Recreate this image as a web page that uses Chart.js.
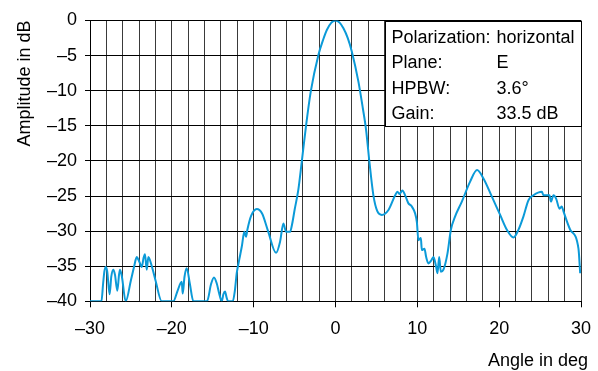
<!DOCTYPE html>
<html>
<head>
<meta charset="utf-8">
<script src="https://cdn.jsdelivr.net/npm/chart.js@4.4.1/dist/chart.umd.min.js"></script>
<style>
  html, body { margin: 0; padding: 0; background: #fff; }
</style>
</head>
<body>
<canvas id="pattern" width="598" height="371"></canvas>
<script>
// measured antenna pattern, angle in deg / amplitude in dB
const angleDeg = [
  -30.0, -28.6, -28.4, -28.25, -28.08, -27.9, -27.6, -27.4, -27.15, -26.95,
  -26.66, -26.45, -26.33, -26.1, -25.64, -25.0, -24.6, -24.29, -24.0, -23.67,
  -23.45, -23.28, -23.07, -22.87, -22.5, -22.0, -21.23, -19.82, -19.3, -18.79,
  -18.67, -18.45, -18.18, -17.8, -17.37, -15.7, -15.2, -14.85, -14.5, -14.23,
  -13.9, -13.7, -13.5, -13.3, -13.13, -12.56, -12.3, -12.07, -11.75, -11.45,
  -11.14, -10.93, -10.77, -10.3, -9.62, -8.97, -8.24, -7.26, -6.77, -6.37,
  -6.04, -5.55, -5.3, -5.0, -4.54, -4.12, -3.59, -3.02, -2.09, -1.5,
  -1.06, -0.5, 0, 0.5, 0.97, 1.5, 1.99, 2.8, 3.34, 3.74,
  4.14, 4.63, 5.12, 5.66, 6.47, 7.29, 7.57, 7.81, 8.18, 8.51,
  8.91, 9.33, 9.94, 10.13, 10.43, 10.55, 10.87, 11.08, 11.36, 11.69,
  11.97, 12.3, 12.46, 12.67, 12.87, 13.19, 13.68, 14.1, 14.62, 15.44,
  16.45, 17.3, 18.08, 19.11, 20.12, 20.94, 21.75, 22.36, 22.97, 23.58,
  24.19, 25.22, 25.41, 26.15, 26.32, 26.64, 26.97, 27.37, 27.66, 27.86,
  28.68, 29.69, 29.9
];
const amplitudeDb = [
  -40, -40, -37.5, -35.8, -35.1, -35.7, -39, -36.5, -35.5, -36.2,
  -38.5, -36.2, -35.5, -36.5, -40, -37, -35, -33.7, -34.3, -35.1,
  -33.8, -33.3, -35.5, -33.7, -34.8, -37, -40, -40, -38.5, -37.2,
  -38.9, -36.5, -35.3, -37.5, -40, -40, -37.5, -36.6, -37.5, -38.8,
  -40, -39, -38.6, -39.5, -40, -40, -38.5, -36, -34, -32.2,
  -30.1, -30.8, -29.8, -27.8, -26.85, -27.5, -30, -33.1, -31.5, -28.9,
  -30.1, -30.1, -29, -27, -24.1, -20.1, -14.9, -10.1, -4.9, -2.7,
  -1.35, -0.3, 0, -0.3, -1.1, -2.5, -4.4, -8.7, -12.5, -15.6,
  -20.1, -24.9, -27.2, -27.7, -27.0, -24.9, -24.4, -24.7, -24.2, -24.9,
  -26.05, -26.5, -28.7, -31.3, -31.0, -32.7, -32.5, -33.7, -34.6, -34.2,
  -33.7, -35.1, -36, -33.7, -35.8, -35.5, -33.2, -29.8, -27.9, -25.8,
  -22.95, -21.3, -22.5, -25.1, -27.7, -29.8, -30.9, -29.8, -27.9, -25.6,
  -24.9, -24.4, -24.9, -24.9, -25.8, -24.9, -25.4, -26.8, -26.5, -27.2,
  -29.8, -32.5, -36.0
];

const infoLabels = ['Polarization:', 'Plane:', 'HPBW:', 'Gain:'];
const infoValues = ['horizontal', 'E', '3.6°', '33.5 dB'];
const xTitle = 'Angle in deg';
const yTitle = 'Amplitude in dB';

const FONT = '"Liberation Sans", Arial, sans-serif';
Chart.defaults.color = '#000';
Chart.defaults.font.family = FONT;
Chart.defaults.font.size = 18;

// typographic minus for negative tick values
const dash = v => v < 0 ? '\u2013' + Math.abs(v) : String(v);

// white info box over the top right grid (6..30 deg, 0..-15 dB)
const infoBox = {
  id: 'infoBox',
  beforeDatasetsDraw(chart) {
    const { ctx, scales: { x, y } } = chart;
    const l = Math.round(x.getPixelForValue(6)) + 0.5;
    const r = Math.round(x.getPixelForValue(30)) + 0.5;
    const t = Math.round(y.getPixelForValue(0)) + 0.5;
    const b = Math.round(y.getPixelForValue(-15)) + 0.5;
    ctx.save();
    ctx.fillStyle = '#fff';
    ctx.fillRect(l, t, r - l, b - t);
    ctx.strokeStyle = '#000';
    ctx.lineWidth = 1;
    ctx.strokeRect(l, t, r - l, b - t);
    ctx.font = '18px ' + FONT;
    ctx.fillStyle = '#000';
    ctx.textBaseline = 'alphabetic';
    ctx.textAlign = 'left';
    infoLabels.forEach((lab, i) => {
      const yy = t + 21 + i * 25.6;
      ctx.fillText(lab, l + 6, yy);
      ctx.fillText(infoValues[i], l + 111, yy);
    });
    ctx.restore();
  }
};

// x axis title sits right-aligned under the last tick label
const xAxisTitle = {
  id: 'xAxisTitle',
  afterDraw(chart) {
    const { ctx } = chart;
    ctx.save();
    ctx.font = '18px ' + FONT;
    ctx.fillStyle = '#000';
    ctx.textAlign = 'right';
    ctx.textBaseline = 'alphabetic';
    ctx.fillText(xTitle, 588, 366);
    ctx.restore();
  }
};

new Chart(document.getElementById('pattern'), {
  type: 'line',
  data: {
    datasets: [{
      data: angleDeg.map((a, i) => ({ x: a, y: amplitudeDb[i] })),
      borderColor: '#0b9ad8',
      borderWidth: 2,
      pointRadius: 0,
      cubicInterpolationMode: 'monotone',
      fill: false
    }]
  },
  options: {
    responsive: false,
    animation: false,
    layout: { padding: { left: 0, right: 17, top: 20.5, bottom: 0 } },
    plugins: { legend: { display: false }, tooltip: { enabled: false } },
    scales: {
      x: {
        type: 'linear',
        min: -30,
        max: 30,
        afterFit: s => {
          s.height = 69.7;
          s.paddingLeft = 0;
          s.paddingRight = 0;
        },
        ticks: {
          stepSize: 2,
          autoSkip: false,
          maxRotation: 0,
          padding: 11,
          callback: v => (v % 10 === 0 ? dash(v) : '')
        },
        grid: {
          color: '#3a3a3a',
          tickLength: 6,
          tickColor: c => (c.tick && c.tick.value % 10 === 0 ? '#000' : 'rgba(0,0,0,0)')
        },
        border: { display: true, color: '#000' }
      },
      y: {
        min: -40,
        max: 0,
        afterFit: s => { s.width = 90; },
        ticks: { stepSize: 5, padding: 8, callback: v => dash(v) },
        grid: { color: '#000', tickLength: 5 },
        border: { display: true, color: '#000' },
        title: {
          display: true,
          text: yTitle,
          align: 'end',
          padding: { top: 14.2, bottom: 0 }
        }
      }
    }
  },
  plugins: [infoBox, xAxisTitle]
});
</script>
</body>
</html>
